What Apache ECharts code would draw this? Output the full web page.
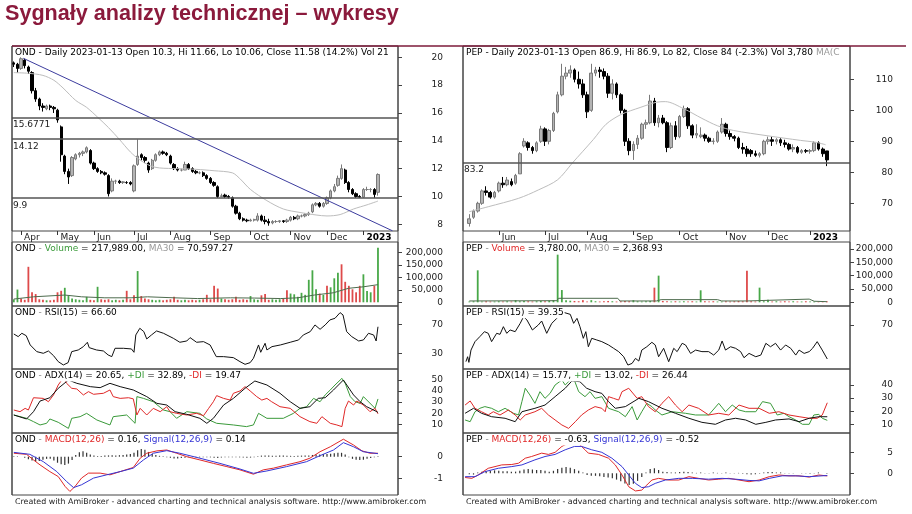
<!DOCTYPE html>
<html><head><meta charset="utf-8">
<script src="https://cdn.jsdelivr.net/npm/echarts@6/dist/echarts.min.js"></script>
<style>html,body{margin:0;padding:0;background:#fff}#c{width:912px;height:514px}</style>
</head><body><div id="c"></div>
<script>
// ===================== OND (left) =====================
const ondMonthIdx = [2,12,22,33,43,54,65,76,86,96];
const ondMonthLbl = ['Apr','May','Jun','Jul','Aug','Sep','Oct','Nov','Dec','2023'];
const ondOpen = [19.6,19.5,19.2,19.8,19.3,18.9,17.6,17.0,16.5,16.3, 16.5,16.4,16.2,15.0,12.9,11.8,11.5,12.7,13.0,13.1, 13.2,13.3,12.4,12.0,11.8,11.7,11.5,10.4,11.1,11.1, 11.0,11.0,11.0,10.4,12.3,13.0,12.8,12.4,12.0,12.6, 13.0,13.2,13.1,12.9,12.3,12.0,11.9,11.9,12.3,12.0, 11.8,11.7,11.7,11.5,11.3,11.0,10.7,10.0,10.1,10.0, 9.9,9.3,8.8,8.4,8.3,8.25,8.3,8.3,8.6,8.3, 8.2,8.1,8.2,8.2,8.25,8.2,8.3,8.5,8.4,8.6, 8.6,8.7,8.9,9.4,9.5,9.3,9.5,9.9,10.4,10.8, 11.3,11.9,11.0,10.5,10.2,10.0,9.95,10.5,10.5,10.5, 10.3];
const ondHigh = [19.7,19.6,20.0,19.9,19.4,19.0,17.8,17.1,16.7,16.6, 16.6,16.5,16.3,15.1,13.0,12.0,12.9,13.1,13.2,13.3, 13.6,13.4,12.5,12.1,11.9,11.8,11.6,11.3,11.2,11.2, 11.1,11.1,11.1,12.3,14.1,13.1,12.9,12.5,12.7,13.1, 13.3,13.3,13.2,13.0,12.4,12.1,12.0,12.5,12.4,12.1, 11.9,11.8,11.8,11.6,11.4,11.1,10.8,10.2,10.2,10.1, 10.0,9.4,8.9,8.5,8.4,8.4,8.4,8.8,8.7,8.6, 8.4,8.3,8.3,8.3,8.3,8.4,8.6,8.6,8.7,8.7, 8.8,8.9,9.5,9.6,9.6,9.6,10.0,10.5,10.9,11.5, 12.3,12.0,11.1,10.6,10.3,10.1,10.6,10.7,10.6,10.6, 11.66];
const ondLow = [19.3,18.9,19.1,19.2,18.8,17.4,16.8,16.2,16.1,16.2, 16.2,16.0,15.3,12.5,11.6,10.9,11.4,12.6,12.8,12.9, 13.1,12.3,11.9,11.7,11.6,11.5,10.0,10.3,10.9,10.9, 10.9,10.9,10.8,10.3,12.2,12.6,12.4,11.7,11.9,12.5, 12.9,13.0,12.9,12.3,11.9,11.8,11.8,11.9,11.9,11.7, 11.6,11.6,11.4,11.2,10.9,10.7,9.9,9.95,9.9,9.85, 9.2,8.7,8.3,8.2,8.15,8.2,8.2,8.2,8.2,8.0, 7.9,8.0,8.1,8.1,8.1,8.1,8.2,8.3,8.3,8.5, 8.5,8.6,8.8,9.3,9.2,9.2,9.4,9.8,10.3,10.7, 11.2,10.9,10.3,10.1,9.9,9.9,9.9,10.4,10.3,9.9, 10.06];
const ondClose = [19.5,19.2,19.9,19.4,19.0,17.6,17.0,16.5,16.4,16.5, 16.4,16.3,15.5,13.0,11.8,11.4,12.8,13.0,13.1,13.2, 13.5,12.4,12.0,11.8,11.7,11.6,10.2,11.1,11.1,11.0, 11.05,11.0,10.9,12.2,12.9,12.8,12.6,11.9,12.6,13.0, 13.2,13.1,13.0,12.4,12.0,11.9,11.9,12.3,12.0,11.8, 11.7,11.7,11.5,11.3,11.0,10.8,10.0,10.05,10.0,9.95, 9.3,8.8,8.4,8.3,8.25,8.3,8.35,8.6,8.3,8.2, 8.1,8.2,8.2,8.25,8.2,8.3,8.5,8.4,8.6,8.6, 8.7,8.8,9.4,9.5,9.3,9.5,9.9,10.4,10.7,11.3, 12.0,11.0,10.5,10.2,10.0,9.95,10.5,10.5,10.5,10.15, 11.58];
const ondMA = [[0,18.9],[4,18.85],[8,18.7],[11,18.35],[13.5,17.8],[17,16.9],[20,16.4],[23,15.7],[26,14.95],[29,14.1],[32,13.2],[34.5,12.65],[37.5,12.2],[40,12.05],[45,12.0],[50,11.95],[55,11.85],[60,11.7],[62,11.3],[65,10.5],[69.5,9.7],[74,9.1],[78.6,8.85],[83,8.67],[86,8.6],[89.6,8.7],[93.3,9.1],[97,9.4],[100,9.67]];
const ondTrend = [[2.6,19.93],[104,7.53]];
const ondLevels = ['15.6771', '14.12', '9.9'];
const ondVol = [12000,51000,15000,10000,142000,40000,33000,12000,10000,8000, 8000,10000,40000,46000,58000,25000,15000,12000,10000,8000, 22000,10000,8000,62000,12000,10000,12000,8000,10000,8000, 10000,46000,12000,28000,125000,25000,15000,12000,10000,8000, 10000,8000,10000,12000,22000,10000,8000,10000,8000,10000, 8000,10000,12000,30000,12000,66000,55000,15000,12000,10000, 12000,22000,10000,12000,10000,25000,12000,10000,28000,33000, 10000,12000,10000,12000,15000,48000,35000,32000,22000,38000, 30000,90000,128000,52000,35000,30000,66000,60000,96000,118000, 152000,82000,66000,52000,40000,66000,112000,45000,40000,66000,217989];
const ondVolDir = 'ggrrrrrrrg'+'rrrrgggggg'+'grrgrrrggr'+'grrrgrrrgg'+'grrrrrggrr'+'rgrrrrrgrr'+'rrrrrgggrr'+'rgggrrgggg'+'ggggrgrggg'+'rrrrrrgggrg';
const ondVolMA = [[0,13000],[5.4,22000],[14,29000],[18.6,22000],[25,18000],[32.2,18000],[36.7,22000],[44,18000],[50.4,15000],[59.5,18000],[66,17000],[73.3,15000],[78,18000],[82.5,29000],[87.7,38000],[91.9,56000],[96,62000],[100,70597]];
const ondRSI = [[0,56.6],[1.2,53],[2.2,57.6],[3.4,54.3],[4.5,41.5],[6.3,32.3],[8.1,30],[9.5,33.2],[10.9,26.8],[12.2,18.5],[13.6,13.9],[14.9,17.1],[15.9,32.3],[17.7,34.6],[19.1,39.2],[20.2,45.2],[20.7,37.8],[22.7,34.6],[24.6,33.2],[25.9,27.7],[26.9,25.4],[27.8,36.9],[30.1,36.9],[32.3,36],[33,31.4],[33.5,55.3],[34.6,64.5],[35.7,59.9],[36.5,49.8],[37.8,55.3],[39.2,60.8],[41.1,57.6],[43.8,50.7],[45.6,45.2],[47.5,47],[48.4,51.6],[50.2,45.2],[52.1,46.1],[53.9,41.5],[55.6,25.4],[57.6,25.4],[60.3,24],[62.1,18.5],[63.5,14.8],[64.9,17.1],[65.8,23.1],[67.2,41.5],[67.8,31.4],[69,43.8],[69.5,34.6],[70.9,39.2],[73.2,41.5],[75.9,45.2],[78.2,48.4],[79.5,55.3],[81.4,59.9],[82.7,69.1],[84.1,63.1],[85.5,69.1],[86.8,76],[88.2,78.3],[89.6,86.1],[90.4,82.9],[91.4,59.9],[92.8,53],[94.7,47],[96,48.4],[97.4,57.6],[98.8,55.3],[99.5,47],[100,66.6]];
const ondADX = [[0,18.4],[3.5,14.8],[5.4,21.4],[7.2,31],[9.9,34],[12.2,42.5],[15,50],[17.3,47],[21,44],[23.7,43.1],[26.4,47],[29.2,44],[32.8,41],[36.5,35],[39.3,28.9],[42,27.4],[44.3,21.4],[47.5,19],[51.1,15.4],[53,10.9],[54.8,15.4],[57.6,27.4],[60.3,33.4],[63.5,42.5],[66.2,49.1],[69.5,45.5],[73.1,38],[75.9,30.4],[78.6,24.4],[81.3,25.9],[83.6,33.4],[85.5,34],[87.8,41],[90.5,50],[93.3,36.5],[95.1,30.4],[96.9,25.9],[99.7,21.4],[100,20.65]];
const ondPDI = [[0,18.4],[3.5,15.4],[5.4,12.4],[7.2,9.4],[9,10.9],[9.9,14.8],[12.2,11.8],[15,6.3],[15.9,15.4],[18.2,16.9],[20,19.9],[22.8,13.9],[26.4,9.4],[27.3,16.9],[31,18.4],[33.3,10.9],[33.8,35],[35.6,33.4],[38.3,30.4],[41.1,22.9],[42.9,21.4],[44.7,15.4],[47.5,21.4],[51.1,19.9],[53,14.8],[55.7,10.9],[60.3,9.4],[63.9,7.9],[65.8,9.4],[67.2,19.9],[69.5,15.4],[74,15.4],[76.8,19.9],[78.6,24.4],[80.4,25.9],[82.3,33.4],[84.1,30.4],[85.5,36.5],[86.9,41],[88.2,45.5],[90.1,51.5],[91,47],[92.4,35],[93.7,30.4],[95.1,28.9],[96,35],[98.3,27.4],[99.2,24.4],[99.6,22.9],[100,32.89]];
const ondMDI = [[0,22.9],[1.7,21.4],[3.1,24.4],[4,22.9],[5.4,34],[8.1,33.4],[9.5,30.4],[10.9,36.5],[12.2,45.5],[13.6,52],[14.5,47],[15.9,42.5],[17.3,41.9],[19.1,36.5],[20.5,39.5],[21.9,37.1],[24.6,38],[26.4,41],[27.3,35],[29.2,33.4],[31.5,34],[32.8,33],[33.8,18.4],[34.7,24.4],[36.5,18.4],[38.3,24.4],[40.2,21.4],[42,25.9],[42.9,21.4],[44.7,19.9],[47.5,18.4],[50.2,19.9],[52.1,17.8],[53.5,24.4],[54.8,30.4],[55.7,35.9],[57.6,33.4],[59.4,31.9],[60.3,38],[62.1,40.1],[63.5,44],[64.9,40.1],[66.7,35],[68.1,31.9],[69.5,33.4],[70.8,30.4],[73.1,25.9],[75.9,24.4],[78.6,16.9],[81.3,12.4],[83.2,10.9],[84.6,16.9],[86.9,10.9],[88.7,9.4],[90.1,7.9],[91,24.4],[91.9,31],[93.3,27.4],[94.2,31],[96,27.4],[97.8,21.4],[99.2,24.4],[100,19.47]];
const ondMACD = [[0,0.16],[3.5,0.11],[5.4,-0.15],[7.2,-0.38],[9.9,-0.69],[12.2,-0.92],[14.1,-1.38],[15.4,-1.61],[16.8,-1.38],[18.6,-0.99],[20.5,-0.76],[23.7,-0.76],[26.4,-0.84],[29.2,-0.69],[32.8,-0.5],[34.7,-0.07],[36.5,0.16],[39.3,0.27],[42,0.31],[44.7,0.16],[47.5,0.0],[51.1,-0.15],[54.8,-0.31],[58.5,-0.46],[62.1,-0.61],[65.8,-0.81],[68.5,-0.61],[71.3,-0.53],[74.9,-0.38],[78.6,-0.23],[81.3,-0.07],[84.1,0.23],[86.9,0.46],[90.5,0.81],[93.3,0.54],[95.6,0.27],[97.8,0.16],[100,0.16]];
const ondSignal = [[0,0.2],[4.4,0.11],[8.1,-0.23],[11.8,-0.69],[14.5,-1.15],[16.4,-1.43],[18.6,-1.3],[21.9,-0.99],[25.5,-0.84],[29.2,-0.69],[32.8,-0.53],[35.6,-0.15],[38.3,0.16],[42,0.28],[45.6,0.16],[51.1,-0.07],[56.6,-0.31],[62.1,-0.57],[65.8,-0.77],[69.5,-0.66],[74.9,-0.46],[80.4,-0.23],[84.1,0.05],[87.8,0.31],[90.5,0.65],[93.3,0.46],[96,0.23],[100,0.14]];
const ondHist = [0.02,0.02,0.0,-0.05,-0.12,-0.18,-0.22,-0.2,-0.14,-0.1, -0.1,-0.18,-0.28,-0.35,-0.38,-0.32,-0.15,0.08,0.2,0.25, 0.18,0.1,0.05,0.03,0.03,0.05,0.06,0.07,0.06,0.07, 0.08,0.1,0.12,0.18,0.3,0.36,0.32,0.22,0.13,0.08, 0.04,0.02,-0.02,-0.05,-0.08,-0.08,-0.06,-0.05,-0.03,-0.02, -0.03,-0.03,-0.02,-0.02,-0.03,-0.05,-0.06,-0.04,-0.03,-0.02, -0.02,-0.02,-0.03,-0.04,-0.05,-0.04,-0.02,0.02,0.05,0.06, 0.05,0.04,0.04,0.05,0.05,0.04,0.04,0.03,0.04,0.05, 0.05,0.06,0.08,0.1,0.1,0.12,0.12,0.14,0.16,0.18, 0.18,0.1,-0.02,-0.1,-0.14,-0.15,-0.14,-0.1,-0.06,-0.03,0.02];

// ===================== PEP (right) =====================
const pepMonthIdx = [7,18,28,39,50,61,71,81];
const pepMonthLbl = ['Jun','Jul','Aug','Sep','Oct','Nov','Dec','2023'];
const pepOpen = [63.5,65.5,67.5,70.0,74.0,73.5,72.0,74.0,76.5,76.0, 77.0,76.5,79.5,88.5,89.5,88.0,87.0,90.0,94.0,90.0, 93.5,99.5,105.0,111.0,112.0,113.0,110.0,108.5,105.0,100.0, 112.0,113.0,112.5,111.0,105.5,108.5,105.0,100.0,90.0,87.0, 89.0,91.0,95.5,96.0,103.0,96.0,97.5,96.0,88.0,95.0, 91.5,98.0,100.5,95.0,92.0,91.5,92.0,91.0,90.0,90.0, 93.0,95.5,92.5,91.5,91.0,88.0,87.5,87.0,86.0,85.5, 86.0,90.0,90.5,90.0,90.5,89.5,89.0,87.5,88.0,86.5, 87.0,86.8,87.0,89.5,87.5,86.9];
const pepHigh = [66.5,68.0,70.5,74.5,75.5,74.0,74.0,77.0,78.5,78.5, 78.0,79.5,86.5,91.0,90.0,88.5,90.0,95.0,94.5,94.0, 99.5,106.0,115.0,114.0,114.5,113.5,112.5,110.0,106.0,115.0, 114.0,114.0,113.5,112.0,110.0,109.0,105.5,100.5,91.0,90.0, 92.0,96.0,97.0,105.0,104.0,98.5,98.5,96.5,96.0,96.5, 98.5,101.5,101.0,95.5,95.5,94.5,92.5,91.5,91.0,93.5, 97.5,96.0,93.5,92.0,91.5,89.5,88.5,87.5,87.0,86.5, 90.5,91.5,91.5,91.0,91.0,90.5,89.5,89.0,88.5,87.5, 87.5,87.5,90.0,90.0,88.0,86.9];
const pepLow = [62.5,65.0,67.0,69.5,72.5,71.5,71.5,73.5,75.0,75.5, 75.5,76.0,79.5,88.0,87.0,86.0,86.5,89.5,88.5,89.0, 93.0,99.0,104.5,110.0,110.5,109.0,107.0,104.0,97.5,99.5, 111.0,110.5,110.0,104.0,103.5,104.0,99.0,88.5,85.5,84.0, 87.5,90.5,94.0,95.5,95.0,94.5,95.5,86.5,87.5,90.5, 91.0,97.5,94.0,91.0,91.0,91.0,90.0,89.5,89.0,89.5, 92.5,91.5,90.5,90.0,87.5,86.0,85.0,85.0,85.0,84.8, 85.5,89.0,88.5,89.0,88.5,88.0,87.0,86.5,86.0,86.0, 86.2,86.0,86.5,87.0,85.0,82.0];
const pepClose = [65.0,67.5,70.0,74.0,73.5,72.0,73.5,76.5,76.0,77.5, 76.0,79.0,86.0,90.0,88.0,87.0,89.5,94.0,90.0,93.5, 99.0,105.0,111.0,112.0,113.0,110.0,108.5,105.0,99.5,112.0, 113.0,112.5,111.0,105.5,108.5,105.0,100.0,90.0,87.0,89.0, 91.0,95.5,96.0,103.0,96.0,97.5,96.0,88.0,95.0,91.5, 98.0,100.5,95.0,92.0,92.5,92.0,91.0,90.0,90.0,93.0, 95.5,92.5,91.5,91.0,88.0,87.5,86.0,86.0,85.5,86.0, 90.0,90.5,90.0,90.5,89.5,89.0,87.5,88.0,86.5,87.0, 86.8,87.0,89.5,87.5,86.0,84.0];
const pepMA = [[0,67.3],[4.5,68.9],[11.7,71.6],[16.4,74.3],[21,77.6],[24.5,83],[29.5,90.6],[32.5,95.5],[36,98.6],[40.6,100.9],[44.5,102.6],[46.6,102.8],[51,100.5],[55.3,97.4],[59,95],[62.8,93.5],[70.8,91.8],[78.7,90.3],[82.3,89.7],[84.7,88.9]];
const pepLevels = ['83.2'];
const pepVol = [3000,4000,120000,3000,4000,3000,3000,4000,3000,4000, 3000,8000,4000,5000,4000,3000,4000,5000,4000,6000, 8000,180000,46000,8000,6000,5000,4000,8000,3000,8000, 4000,3000,4000,5000,4000,3000,4000,5000,4000,8000, 4000,3000,4000,5000,55000,100000,5000,4000,3000,4000, 3000,4000,3000,4000,3000,45000,4000,3000,4000,3000, 3000,4000,3000,4000,5000,4000,118000,4000,3000,55000, 4000,10000,3000,4000,3000,4000,3000,4000,3000,3000, 4000,3000,3000,2000,2000,3780];
const pepVolDir = 'ggggrrggrg'+'rgggrrggrg'+'gggggrrrrg'+'grrrgrrrrg'+'ggggrgrrgr'+'ggrrggrrrg'+'grrrrrrrrg'+'ggrgrrrgrg'+'rggrrr';
const pepVolMA = [[0,5000],[20.8,6000],[21.2,15000],[35.3,15000],[35.8,5000],[44.5,5000],[45.6,10000],[59,10000],[60,5000],[66,5000],[66.4,12000],[80.8,12000],[82,4000],[85,2369]];
const pepRSI = [[-0.8,37],[-0.4,41.4],[-0.1,36.3],[0.4,47.4],[1.35,55],[2.5,59.5],[3.6,64],[4.5,62.5],[5.3,55],[6.5,62.5],[7.3,61.6],[8.1,68.5],[8.9,62.5],[9.7,65.5],[10.9,64],[12.1,71.5],[12.9,77.5],[13.7,74.5],[15,65.5],[16.4,70],[17.2,73.6],[18.4,62.5],[19.6,71.5],[20.8,76],[21.6,79],[22.4,81.4],[24,79.6],[24.8,71.5],[25.6,76],[26.3,68.5],[27.1,58],[27.7,64],[28.3,50.4],[29.1,58],[30.3,56.5],[31.5,55],[33.1,52],[34.3,49],[35.5,46],[36.7,41.4],[37.7,33.9],[38.7,35.4],[39.5,39.9],[40.3,37.5],[41,47.4],[42.2,50.4],[43.4,54.4],[44.2,52],[45,41.4],[46.2,49],[47.4,36.9],[48.6,49],[49.4,46],[50.6,53.5],[51.4,52],[52.6,44.4],[53.8,47.4],[55.3,46],[56.9,46],[58.1,42.9],[59.3,47.4],[60.1,55.6],[60.9,47.4],[62.1,50.4],[63.3,49],[64.5,46],[65.3,40.5],[66.5,44.4],[68.1,41.4],[69.3,42.9],[70.5,53.5],[71.6,50.4],[72.8,53.5],[74,47.4],[75.2,52],[76.4,49],[77.6,42.9],[78.4,47.4],[79.6,44.4],[80.8,46],[81.6,49],[82.7,55],[83.9,47.4],[85.1,39.35]];
const pepADX = [[-1,18.4],[1,22.2],[2.9,18.4],[5.3,15.8],[8.5,14.6],[10.9,12],[12.5,19.6],[15.6,22.2],[18,24.7],[20.4,31.1],[22.8,37.5],[24.4,43.1],[26.3,42.5],[27.9,37.5],[29.9,34.9],[31.5,33.6],[33.1,27.3],[34.7,22.2],[37.1,23.5],[40.3,29.8],[42.6,27.3],[45.8,22.2],[49,18.4],[52.2,14.6],[55.3,11.5],[58.5,10],[60.9,13.3],[63.3,14.6],[65.7,13.3],[68.1,10],[70.5,11.5],[72.8,13.3],[76,14.1],[78.4,12],[80.8,14.6],[83.1,15.8],[85.1,15.77]];
const pepPDI = [[-1,13.3],[0.2,12],[1.35,19.6],[2.5,22.2],[3.7,23.5],[5.3,22.2],[6.9,19.6],[8.5,22.2],[10.5,18.4],[11.7,17.1],[12.5,27.3],[13.3,37.5],[14.4,32.4],[15.6,26],[16.8,34.9],[18,29.8],[19.2,33.6],[20.4,40],[22,43.8],[22.8,40],[24,43.8],[24.8,45.1],[26,34.9],[27.5,31.1],[28.7,34.9],[29.9,29.8],[31.5,31.1],[33.1,22.2],[35.5,19.6],[37.1,15.8],[38.7,23.5],[39.9,13.3],[41,19.6],[42.2,26],[43.4,23.5],[44.2,20.9],[45.8,17.1],[48.2,19.6],[51.4,18.4],[53.8,17.1],[56.9,17.1],[59.3,26],[60.9,19.6],[62.5,24.7],[64.1,20.9],[65.7,19.6],[68.1,19.6],[69.7,27.3],[71.6,26],[73.2,17.1],[74.8,18.4],[76,15.8],[77.6,13.3],[79.2,10],[80.8,10],[81.9,17.1],[83.1,17.6],[83.9,14.6],[85.1,13.02]];
const pepMDI = [[-1,24.7],[0.2,27.8],[1.35,22.2],[2.9,19.6],[4.5,17.1],[5.7,19.6],[7.3,17.1],[9.3,20.9],[10.9,17.1],[12.1,13.3],[13.3,17.1],[15.6,19.6],[17.2,22.2],[18.8,17.1],[20.4,13.3],[22,9.5],[23.6,6.9],[25.2,12],[26.7,17.1],[28.3,20.9],[29.9,23.5],[31.5,22.2],[32.3,19.6],[33.1,31.1],[34.3,29.8],[35.5,28.5],[36.3,34.9],[37.9,37.5],[39.9,29.8],[41,31.1],[42.6,23.5],[44.2,19.6],[45.8,26],[47.4,31.1],[49,24.7],[50.6,19.6],[52.2,24.7],[54.5,22.2],[56.9,17.1],[59.3,18.4],[61.7,17.1],[64.1,24.7],[66.5,22.2],[68.9,22.2],[71.3,18.4],[73.6,19.6],[76,17.1],[78.4,15.8],[80.8,14.6],[82.7,14.6],[83.9,17.1],[85.1,26.44]];
const pepMACD = [[-1,-1.0],[0.6,-1.2],[2.1,-0.4],[4.5,1.2],[7.7,2.0],[10.1,2.1],[11.7,2.4],[13.3,3.6],[14.8,4.0],[17.2,4.8],[18.8,4.5],[20.4,5.0],[22,6.4],[22.8,6.8],[24.5,7.4],[26.3,6.8],[27.5,5.6],[28.3,4.8],[30.7,4.5],[33.1,3.6],[34.7,2.0],[36.3,-0.4],[37.9,-3.2],[39.5,-4.2],[41,-4.0],[42.2,-2.8],[43.4,-1.6],[45,-1.2],[47.4,-1.6],[49.8,-1.6],[52.2,-0.8],[54.5,-1.2],[56.9,-1.6],[59.3,-1.4],[61.7,-1.2],[64.1,-1.6],[66.5,-2.0],[68.9,-1.6],[71.3,-0.8],[73.6,-0.4],[76,-0.6],[78.4,-0.6],[80.8,-0.9],[83.1,-0.4],[85.1,-0.63]];
const pepSignal = [[-1,-0.8],[1.35,-0.8],[3.7,0.4],[6.9,1.2],[10.1,1.6],[12.5,2.0],[15.6,3.2],[18,4.0],[20.4,4.5],[22.8,5.6],[25,6.4],[26.7,6.4],[29.1,5.6],[31.5,5.0],[33.9,3.6],[36.3,1.6],[37.9,-0.4],[39.5,-2.4],[41,-3.4],[42.6,-3.2],[44.2,-2.4],[46.6,-1.6],[49.8,-1.2],[53,-1.2],[56.9,-1.4],[60.1,-1.2],[63.3,-1.4],[66.5,-1.7],[68.9,-1.8],[71.3,-1.2],[74.4,-0.6],[77.6,-0.6],[80.8,-0.8],[85.1,-0.52]];
const pepHist = [-0.2,-0.3,0.2,0.4,0.5,0.6,0.7,0.6,0.5,0.5, 0.4,0.4,0.6,0.9,1.0,0.9,0.8,0.8,0.6,0.4, 0.6,1.0,1.3,1.5,1.3,1.0,0.6,0.2,-0.4,-0.6, -0.6,-0.7,-0.9,-1.0,-1.2,-1.5,-1.9,-2.4,-2.8,-2.5, -1.8,-0.9,0.2,1.0,1.2,0.8,0.4,0.3,0.2,0.2, 0.3,0.4,0.3,0.2,0.1,0.2,0.1,0.1,0.2,0.1, 0.1,0.2,0.1,0.1,0.1,-0.1,-0.2,-0.3,-0.2,-0.1, 0.2,0.3,0.3,0.2,0.2,0.1,0.1,0.1,0.0,0.1, 0.1,-0.1,0.1,0.2,0.0,-0.11];

// ===================== tick labels =====================
const ondPriceTicks = [8,10,12,14,16,18,20];
const pepPriceTicks = [70,80,90,100,110];
const volTicks = [0,50000,100000,150000,200000];
const ondRsiTicks = [30,70];
const pepRsiTicks = [70];
const ondAdxTicks = [10,20,30,40,50];
const pepAdxTicks = [10,20,30,40];
const ondMacdTicks = [-1,0];
const pepMacdTicks = [0,5];

// ===================== styling / layout =====================
const FONT = '"DejaVu Sans", Verdana, sans-serif';
const GREEN = '#3a9a3a', RED = '#e02828', BLUE = '#3535d5';
const PANES = [{top:46,h:185},{top:242,h:64},{top:306,h:63},{top:369,h:64},{top:433,h:62}];
const HDR_Y = [52.5, 249, 312.7, 376, 440, 502.3];
const FOOT = 'Created with AmiBroker - advanced charting and technical analysis software. http://www.amibroker.com';

const charts = [
  {
    left:12, width:386, lead:0, trail:5, candleW:2.8, labelMargin:45,
    o:ondOpen, h:ondHigh, l:ondLow, c:ondClose, ma:ondMA, trend:ondTrend, levels:ondLevels,
    vol:ondVol, volDir:ondVolDir, volMA:ondVolMA, rsi:ondRSI, adx:ondADX, pdi:ondPDI, mdi:ondMDI,
    macd:ondMACD, signal:ondSignal, hist:ondHist, monthIdx:ondMonthIdx, monthLbl:ondMonthLbl,
    ranges:[[7.519,20.812],[-14800,241200],[8.34,95.24],[2.14,59.94],[-1.7735,1.097]],
    ticks:[ondPriceTicks, volTicks, ondRsiTicks, ondAdxTicks, ondMacdTicks],
    hdr:[
      '{k|OND - Daily 2023-01-13 Open 10.3, Hi 11.66, Lo 10.06, Close 11.58 (14.2%) Vol 21}',
      '{k|OND }{d|- }{g|Volume}{k| = 217,989.00, }{m|MA30}{k| = 70,597.27}',
      '{k|OND }{d|- }{k|RSI(15) = 66.60}',
      '{k|OND }{d|- }{k|ADX(14) = 20.65, }{g|+DI}{k| = 32.89, }{r|-DI}{k| = 19.47}',
      '{k|OND }{d|- }{r|MACD(12,26)}{k| = 0.16, }{b|Signal(12,26,9)}{k| = 0.14}',
      '{f|' + FOOT + '}'
    ]
  },
  {
    left:463, width:387, lead:1, trail:5, candleW:3.2, labelMargin:43,
    o:pepOpen, h:pepHigh, l:pepLow, c:pepClose, ma:pepMA, trend:null, levels:pepLevels,
    vol:pepVol, volDir:pepVolDir, volMA:pepVolMA, rsi:pepRSI, adx:pepADX, pdi:pepPDI, mdi:pepMDI,
    macd:pepMACD, signal:pepSignal, hist:pepHist, monthIdx:pepMonthIdx, monthLbl:pepMonthLbl,
    ranges:[[61.07,120.74],[-13880,226270],[30.34,87.13],[3.36,52.2],[-5.166,9.6]],
    ticks:[pepPriceTicks, volTicks, pepRsiTicks, pepAdxTicks, pepMacdTicks],
    hdr:[
      '{k|PEP - Daily 2023-01-13 Open 86.9, Hi 86.9, Lo 82, Close 84 (-2.3%) Vol 3,780 }{m|MA(C}',
      '{k|PEP }{d|- }{r|Volume}{k| = 3,780.00, }{m|MA30}{k| = 2,368.93}',
      '{k|PEP }{d|- }{k|RSI(15) = 39.35}',
      '{k|PEP }{d|- }{k|ADX(14) = 15.77, }{g|+DI}{k| = 13.02, }{r|-DI}{k| = 26.44}',
      '{k|PEP }{d|- }{r|MACD(12,26)}{k| = -0.63, }{b|Signal(12,26,9)}{k| = -0.52}',
      '{f|' + FOOT + '}'
    ]
  }
];

function rs(color, size){ return {color:color, fontSize:size || 9, fontFamily:FONT, fontWeight:'normal', lineHeight:11}; }
const RICH = {k:rs('#000'), d:rs('#888'), g:rs(GREEN), r:rs(RED), b:rs(BLUE), m:rs('#999'), f:rs('#222', 7.9)};

const option = {animation:false, backgroundColor:'#fff', grid:[], xAxis:[], yAxis:[], series:[], title:[], graphic:[]};

option.title.push({text:'Sygnały analizy technicznej – wykresy', left:5, top:1.5, padding:0,
  textStyle:{fontFamily:'"Liberation Sans", Arial, sans-serif', fontWeight:'bold', fontSize:21.6, lineHeight:26, color:'#8b1a3c'}});

function pad(arr, lead, trail){ return Array(lead).fill('-').concat(arr, Array(trail).fill('-')); }
function fmtNum(v){ return Math.abs(v) >= 1000 ? v.toLocaleString('en-US') : String(v); }

charts.forEach(function(ch, ci){
  const n = ch.c.length;
  const nCat = ch.lead + n + ch.trail;
  const cats = Array.from({length:nCat}, function(_, i){ return String(i); });
  const monthAt = {};
  ch.monthIdx.forEach(function(m, i){ monthAt[m + ch.lead] = ch.monthLbl[i]; });
  const isMonth = function(i){ return monthAt[i] !== undefined; };
  const g0 = ci * 5;

  PANES.forEach(function(P, p){
    const g = g0 + p;
    option.grid.push({left:ch.left, top:P.top, width:ch.width, height:P.h, show:true,
      borderColor:'#444', borderWidth:1, backgroundColor:'transparent'});
    if (p === 0) {
      option.xAxis.push({type:'category', gridIndex:g, data:cats, boundaryGap:true,
        axisLine:{show:false, onZero:false}, splitLine:{show:false},
        axisTick:{show:true, alignWithLabel:true, interval:function(i){ return isMonth(i); }, length:4, lineStyle:{color:'#333'}},
        axisLabel:{show:true, interval:function(i){ return isMonth(i); }, hideOverlap:false,
          formatter:function(v){ const l = monthAt[+v]; return l === '2023' ? '{y|2023}' : (l || ''); },
          align:'left', padding:[0,0,0,3], margin:2, fontSize:9, fontFamily:FONT, color:'#222',
          rich:{y:{fontSize:9, fontFamily:FONT, fontWeight:'bold', color:'#000'}}}});
    } else {
      option.xAxis.push({type:'category', gridIndex:g, data:cats, boundaryGap:true, show:false, axisLine:{onZero:false}});
    }
    option.xAxis.push({type:'value', gridIndex:g, min:-0.5 - ch.lead, max:n + ch.trail - 0.5, show:false, axisLine:{onZero:false}});
    const rg = ch.ranges[p];
    option.yAxis.push({type:'value', gridIndex:g, position:'right', min:rg[0], max:rg[1],
      splitLine:{show:false}, axisLine:{show:false, onZero:false},
      axisTick:{show:true, customValues:ch.ticks[p], length:4, lineStyle:{color:'#444'}},
      axisLabel:{show:true, customValues:ch.ticks[p], formatter:fmtNum, align:'right', margin:ch.labelMargin,
        fontSize:9, fontFamily:FONT, color:'#222'}});
    option.title.push({text:ch.hdr[p], left:ch.left + 3, top:HDR_Y[p] - 5.5, padding:[0,1,0,0],
      backgroundColor: p === 0 ? 'transparent' : '#fff',
      textStyle:{fontSize:9, fontFamily:FONT, fontWeight:'normal', lineHeight:11, color:'#000', rich:RICH}});
  });
  option.title.push({text:ch.hdr[5], left:ch.left + 3, top:HDR_Y[5] - 5.5, padding:0,
    textStyle:{fontSize:7.9, fontFamily:FONT, fontWeight:'normal', lineHeight:11, color:'#222', rich:RICH}});

  const cx = function(p){ return 2 * (g0 + p); };
  const vx = function(p){ return 2 * (g0 + p) + 1; };
  const yi = function(p){ return g0 + p; };

  // price
  const candles = ch.o.map(function(o, i){ return [o, ch.c[i], ch.l[i], ch.h[i]]; });
  option.series.push({type:'candlestick', xAxisIndex:cx(0), yAxisIndex:yi(0), data:pad(candles, ch.lead, ch.trail),
    barWidth:ch.candleW,
    itemStyle:{color:'#b4b4b4', color0:'#000', borderColor:'#7a7a7a', borderColor0:'#000', borderWidth:1},
    markLine:{symbol:['none','none'], silent:true, animation:false,
      lineStyle:{color:'#555', width:1.5, type:'solid'},
      label:{position:'insideStartBottom', formatter:'{b}',
        fontSize:9, fontFamily:FONT, color:'#222', distance:[1,3]},
      data:ch.levels.map(function(v){ return {yAxis:+v, name:v}; })}});
  option.series.push({type:'line', xAxisIndex:vx(0), yAxisIndex:yi(0), data:ch.ma, symbol:'none', smooth:0.3,
    lineStyle:{color:'#bdbdbd', width:1}, z:3});
  if (ch.trend) option.series.push({type:'line', xAxisIndex:vx(0), yAxisIndex:yi(0), data:ch.trend, symbol:'none',
    lineStyle:{color:'#3c3c9e', width:1}, z:4});

  // volume
  const volItems = ch.vol.map(function(v, i){ return {value:v, itemStyle:{color: ch.volDir[i] === 'g' ? '#48a848' : '#de4a4a'}}; });
  option.series.push({type:'bar', xAxisIndex:cx(1), yAxisIndex:yi(1), data:pad(volItems, ch.lead, ch.trail), barWidth:1.8});
  option.series.push({type:'line', xAxisIndex:vx(1), yAxisIndex:yi(1), data:ch.volMA, symbol:'none',
    lineStyle:{color:'#4d6b4d', width:1}, z:3});

  // RSI
  option.series.push({type:'line', xAxisIndex:vx(2), yAxisIndex:yi(2), data:ch.rsi, symbol:'none',
    lineStyle:{color:'#111', width:1}});

  // ADX
  option.series.push({type:'line', xAxisIndex:vx(3), yAxisIndex:yi(3), data:ch.pdi, symbol:'none', lineStyle:{color:GREEN, width:1}});
  option.series.push({type:'line', xAxisIndex:vx(3), yAxisIndex:yi(3), data:ch.mdi, symbol:'none', lineStyle:{color:RED, width:1}});
  option.series.push({type:'line', xAxisIndex:vx(3), yAxisIndex:yi(3), data:ch.adx, symbol:'none', lineStyle:{color:'#111', width:1}});

  // MACD
  option.series.push({type:'bar', xAxisIndex:cx(4), yAxisIndex:yi(4), data:pad(ch.hist, ch.lead, ch.trail), barWidth:1.2,
    itemStyle:{color:'#333'}});
  option.series.push({type:'line', xAxisIndex:vx(4), yAxisIndex:yi(4), data:ch.macd, symbol:'none', lineStyle:{color:RED, width:1}});
  option.series.push({type:'line', xAxisIndex:vx(4), yAxisIndex:yi(4), data:ch.signal, symbol:'none', lineStyle:{color:BLUE, width:1}});

  // frame verticals (extend through date strip)
  [ch.left, ch.left + ch.width].forEach(function(x){
    option.graphic.push({type:'line', shape:{x1:x, y1:46, x2:x, y2:495}, style:{stroke:'#444', lineWidth:1}, z:50, silent:true});
  });
});
option.graphic.push({type:'line', shape:{x1:12, y1:46, x2:906, y2:46}, style:{stroke:'#7d1a3a', lineWidth:1.5}, z:60, silent:true});

const chart = echarts.init(document.getElementById('c'), null, {renderer:'canvas'});
chart.setOption(option);
</script></body></html>
